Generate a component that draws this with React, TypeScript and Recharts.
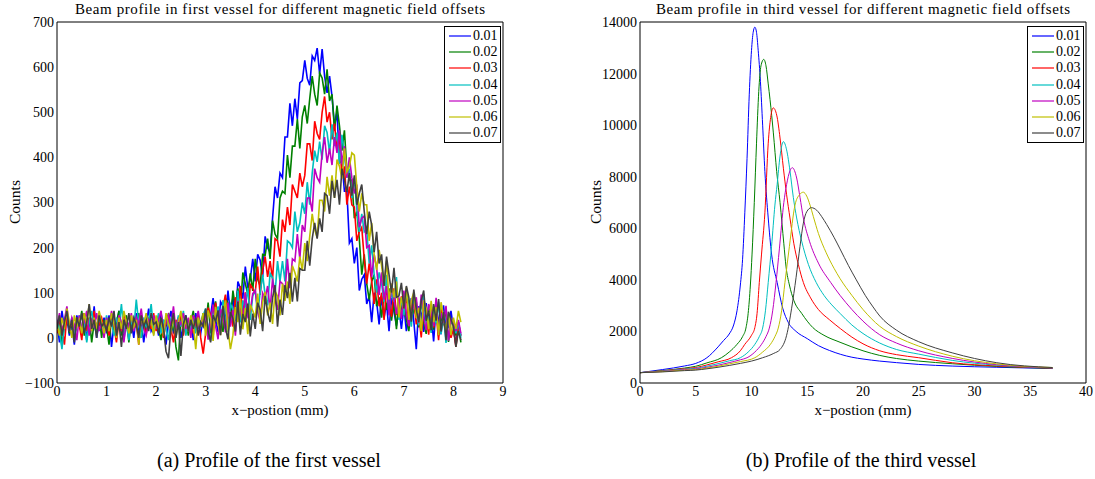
import React from 'react';
import { LineChart, Line, XAxis, YAxis, Legend } from 'recharts';

const FONT = '"Liberation Serif", "Times New Roman", serif';

const SERIES_LABELS = ['0.01', '0.02', '0.03', '0.04', '0.05', '0.06', '0.07'];
const SERIES_COLORS = ['#0000ff', '#008000', '#ff0000', '#00bfbf', '#bf00bf', '#bfbf00', '#404040'];

// ---- first vessel: counts sampled every 0.05 mm starting at 0 mm ----
const FIRST_STEP_MM = 0.05;

const first001 = [
  35, -10, 60, 20, 45, 5, 30, -15, 50, 25, 10, 55, -5, 40, 15, 70, 0, 35, 20, 45,
  10, 50, -20, 30, 15, 60, 25, -5, 45, 20, 35, 0, 55, 10, 40, -10, 30, 65, 15, 25,
  40, 5, 55, 20, -15, 35, 60, 10, 25, 45, 0, 30, 50, 15, 40, -5, 55, 25, 10, 45,
  60, 7, 50, 88, 40, 13, 80, 70, 35, 105, 53, 90, 40, 125, 110, 87, 158, 110, 130, 175,
  125, 185, 172, 135, 225, 200, 190, 265, 335, 310, 365, 355, 445, 445, 520, 470, 530, 485, 565, 570,
  615, 575, 560, 625, 615, 642, 585, 640, 580, 543, 580, 535, 470, 500, 390, 390, 325, 325, 210, 220,
  165, 200, 105, 130, 140, 75, 93, 35, 100, 80, 30, 92, 45, 77, 15, 89, 58, 27, 66, 20,
  70, 15, 53, 88, 37, -25, 70, 54, 13, 77, 20, 53, -8, 66, 40, 8, 72, 16, 25, 60,
  20, -15, 35, 5,
];

const first002 = [
  20, 45, -20, 30, 55, 10, 35, -5, 40, 25, 60, 5, 30, 45, -10, 35, 20, 55, 0, 40,
  25, -15, 45, 15, 35, 60, 5, 30, 50, -10, 40, 20, 30, 55, 0, 35, 15, 45, 25, 10,
  45, 20, -5, 40, 25, 55, 10, 35, -20, -50, 50, 15, 40, 5, 35, 60, 20, 45, 30, 55,
  25, 78, 10, 58, 81, 30, 59, 13, 88, 77, 35, 105, 67, 110, 60, 145, 120, 97, 143, 104,
  175, 130, 115, 185, 183, 220, 175, 260, 230, 220, 310, 325, 320, 405, 355, 425, 425, 485, 420, 490,
  515, 475, 530, 580, 540, 515, 587, 576, 540, 595, 525, 540, 460, 515, 470, 415, 460, 370, 350, 350,
  265, 280, 220, 140, 185, 120, 85, 125, 140, 70, 90, 45, 100, 62, 110, 38, 81, 19, 82, 65,
  93, 41, 15, 74, 57, 80, 23, 86, 35, 9, 67, 50, 18, 81, 5, 49, 28, 67, -9, 40,
  25, 5, 30, -10,
];

const first003 = [
  10, 40, 25, -15, 50, 20, 35, 0, 45, 30, -5, 55, 15, 40, 25, 60, 10, 30, 45, 20,
  35, 5, 50, 25, -10, 40, 15, 55, 30, 0, 45, 20, 35, -15, 50, 25, 10, 40, 20, 55,
  15, 45, 25, 0, 35, 50, 20, -10, 40, 25, 55, 5, 35, 20, 45, 10, 30, 50, 0, -35,
  10, 67, 49, 1, 78, 40, 17, 69, 96, 33, 60, 25, 90, 60, 115, 50, 101, 47, 118, 109,
  100, 158, 95, 150, 180, 135, 170, 130, 220, 215, 180, 262, 235, 290, 250, 340, 325, 310, 365, 335,
  360, 430, 430, 393, 480, 453, 440, 500, 535, 478, 500, 440, 475, 415, 445, 355, 380, 295, 335, 295,
  290, 215, 235, 245, 175, 120, 165, 125, 75, 130, 70, 100, 40, 110, 80, 47, 110, 53, 60, 92,
  50, 98, 26, 69, 87, 30, 53, 1, 70, 54, 7, 70, 23, 56, -5, 69, 38, 7, 46, 0,
  20, -20, 25, 5,
];

const first004 = [
  40, 15, -25, 35, 55, 20, 45, 5, 30, 50, 15, 40, -10, 35, 60, 25, 10, 45, 30, 20,
  50, 20, 35, 5, 45, 25, 75, 10, 30, -5, 40, 20, 85, 30, 0, 45, 25, 35, 75, 15,
  30, 55, 10, 40, 20, -5, 45, 30, 15, 50, 25, 60, 5, 35, 20, 45, 10, 40, 25, 50,
  65, 17, -6, 56, 43, 70, 17, 84, 36, 13, 75, 63, 37, 105, 34, 83, 67, 111, 40, 93,
  105, 55, 100, 140, 95, 72, 143, 133, 98, 170, 125, 170, 125, 215, 210, 200, 280, 235, 255, 300,
  275, 345, 295, 365, 415, 390, 435, 395, 470, 455, 410, 473, 425, 455, 385, 450, 405, 355, 375, 310,
  355, 285, 235, 275, 235, 240, 165, 205, 140, 100, 145, 120, 80, 140, 60, 100, 80, 135, 40, 88,
  50, 100, 78, 25, 97, 55, 28, 75, 97, 30, 53, 11, 69, 32, 80, 8, 51, -11, 52, 35,
  30, 10, 35, 0,
];

const first005 = [
  25, 55, 10, 40, 70, 15, 45, 30, -5, 50, 20, 35, 60, 5, 40, 25, 55, 15, 35, 0,
  45, 20, 60, 30, 10, 50, 35, -10, 40, 25, 55, 15, 45, 30, 65, 20, 5, 40, 30, 50,
  20, 40, 60, 10, 35, 50, 25, 70, 15, 40, 30, 55, 20, 45, 0, 50, 35, 60, 25, 45,
  50, -4, 38, 74, 26, -3, 64, 50, 12, 78, 25, 62, 5, 82, 60, 32, 100, 48, 60, 98,
  105, 58, 36, 99, 87, 115, 63, 131, 84, 62, 125, 120, 100, 175, 110, 175, 170, 230, 175, 250,
  235, 310, 310, 280, 375, 355, 345, 410, 445, 388, 420, 383, 445, 410, 460, 385, 425, 355, 400, 355,
  320, 340, 245, 265, 270, 200, 205, 135, 185, 155, 95, 145, 85, 115, 50, 120, 85, 53, 90, 42,
  105, 53, 26, 84, 67, 90, 33, 96, 44, 17, 75, 58, 26, 89, 12, 55, 33, 71, -6, 42,
  35, 15, 40, 10,
];

const first006 = [
  30, 5, 45, 20, 65, 35, 0, 50, 25, 40, 10, 55, 30, 75, 15, 45, 20, 60, 35, 10,
  40, 15, 55, 30, 0, 45, 20, 60, 35, 10, 50, 25, 40, -15, 45, 30, 55, 20, 40, 5,
  50, 25, 40, 5, 55, 30, 15, 45, 0, 35, 60, 20, 40, 15, 50, 30, -25, 45, 25, 55,
  5, 61, 42, -7, 69, 30, 6, 57, 83, 19, -25, 6, 68, 35, 87, 19, 66, 8, 74, 60,
  45, 98, 31, 79, 102, 50, 78, 31, 104, 92, 50, 120, 82, 125, 75, 160, 145, 125, 180, 150,
  210, 170, 225, 275, 240, 222, 305, 305, 280, 357, 315, 360, 310, 395, 380, 353, 420, 368, 380, 410,
  405, 335, 280, 320, 295, 295, 215, 255, 185, 150, 195, 160, 115, 170, 85, 120, 90, 125, 45, 90,
  65, 112, 40, 83, 101, 44, 67, 15, 83, 66, 19, 82, 35, 68, 6, 79, 47, 15, 53, 6,
  45, 20, 60, 35,
];

const first007 = [
  20, 50, 5, 35, 60, 15, 40, -10, 45, 25, 55, 10, 35, 75, 20, 40, 0, 50, 25, 35,
  15, 45, 25, 60, 5, 35, -20, 40, 20, 55, 10, 45, 30, 0, 50, 25, 40, 15, 55, 30,
  35, 10, 45, 20, -30, -45, 25, 55, 0, 35, -40, 30, 50, 15, 40, 20, 45, 5, 35, 25,
  65, 15, -10, 50, 36, 61, 6, 71, 22, -3, 57, 43, 14, 80, 7, 53, 35, 76, 3, 54,
  20, 78, 62, 15, 93, 57, 35, 89, 117, 25, 85, 51, 117, 88, 144, 80, 133, 81, 154, 150,
  150, 215, 160, 220, 255, 220, 265, 235, 320, 315, 275, 348, 310, 350, 295, 375, 350, 323, 365, 315,
  360, 295, 320, 340, 280, 230, 280, 250, 190, 235, 165, 185, 115, 180, 140, 100, 155, 90, 93, 122,
  65, 115, 90, 36, 107, 63, 35, 82, 105, 38, 60, 17, 75, 38, 86, 14, 57, -5, 58, 41,
  25, -20, 15, -5,
];

// ---- third vessel: [x (mm), counts] ----
const third001 = [
  [0, 400], [2, 520], [4, 660], [5, 760], [6, 980], [7, 1400], [7.5, 1650], [8, 1900], [8.4, 2250],
  [8.7, 2800], [9, 3800], [9.2, 4800], [9.4, 6600], [9.6, 8700], [9.8, 11200], [10, 12900],
  [10.15, 13600], [10.3, 13800], [10.45, 13600], [10.6, 12900], [10.8, 11700], [11, 10000],
  [11.2, 8200], [11.5, 6400], [11.8, 5000], [12.3, 3900], [12.8, 2900], [13.3, 2350], [14, 2000],
  [15, 1720], [16, 1450], [17, 1260], [18, 1110], [19, 1000], [20, 930], [21.5, 850], [23, 790],
  [25, 720], [28, 657], [32, 610], [37, 560],
];
const third002 = [
  [0, 400], [2, 480], [4, 580], [5, 650], [6, 780], [7.3, 980], [8, 1200], [8.7, 1500], [9.2, 1800],
  [9.5, 2130], [9.7, 2700], [9.9, 3800], [10.05, 5000], [10.25, 7000], [10.45, 9300], [10.65, 11300],
  [10.85, 12300], [11.1, 12550], [11.3, 12300], [11.5, 11600], [11.66, 11000], [11.96, 9700],
  [12.26, 8200], [12.56, 7000], [12.9, 5400], [13.1, 4500], [13.4, 3800], [13.8, 3200], [14.5, 2700],
  [15.5, 2150], [16.5, 1850], [17.94, 1580], [19, 1400], [20, 1250], [21.5, 1070], [23, 950],
  [25, 850], [28, 747], [32, 640], [37, 570],
];
const third003 = [
  [0, 400], [2, 470], [4, 560], [5, 600], [6, 700], [7, 820], [8.2, 980], [9, 1250], [9.4, 1500],
  [10, 1850], [10.3, 2150], [10.5, 2700], [10.7, 3900], [10.9, 5000], [11.2, 6600], [11.5, 9300],
  [11.72, 10300], [11.95, 10670], [12.26, 10390], [12.56, 9500], [12.86, 8330], [13.15, 7300],
  [13.45, 6400], [13.8, 5400], [14.2, 4600], [14.65, 3900], [15.3, 3300], [16, 2850], [17, 2450],
  [18, 2100], [19, 1780], [20, 1520], [21.5, 1250], [23, 1100], [25, 980], [28, 786], [32, 660],
  [37, 580],
];
const third004 = [
  [0, 400], [2, 460], [4, 540], [5, 570], [6, 650], [7, 750], [8, 860], [9, 980], [9.7, 1200],
  [10.3, 1500], [10.7, 1800], [11, 2130], [11.25, 2800], [11.5, 3900], [11.8, 5300], [12.1, 6900],
  [12.3, 7700], [12.56, 8800], [12.86, 9360], [13.15, 9040], [13.45, 8230], [13.75, 7200],
  [14.05, 6400], [14.5, 5500], [15.1, 4600], [15.8, 3900], [16.5, 3400], [17.2, 3030],
  [17.94, 2700], [19, 2250], [20, 1920], [21.5, 1550], [23, 1300], [25, 1120], [28, 877],
  [32, 690], [37, 590],
];
const third005 = [
  [0, 400], [2, 450], [4, 520], [5, 545], [6, 610], [7, 690], [8, 790], [9, 900], [9.6, 980],
  [10.3, 1200], [10.9, 1500], [11.3, 1800], [11.6, 2130], [11.9, 2800], [12.2, 3900], [12.5, 5200],
  [12.9, 7000], [13.15, 7700], [13.45, 8230], [13.66, 8350], [14.05, 7950], [14.35, 7200],
  [14.65, 6400], [15.2, 5500], [16, 4650], [17.1, 3900], [17.94, 3400], [19, 2850], [20, 2400],
  [21.5, 1870], [23, 1550], [25, 1250], [28, 955], [32, 710], [37, 590],
];
const third006 = [
  [0, 400], [2, 440], [4, 500], [5, 520], [6, 580], [7, 650], [8, 740], [9, 830], [10.3, 980],
  [11, 1200], [11.7, 1500], [12.1, 1800], [12.4, 2130], [12.7, 2800], [13, 3900], [13.4, 5300],
  [13.9, 6900], [14.3, 7300], [14.65, 7400], [14.95, 7250], [15.25, 6900], [15.55, 6450],
  [16, 5800], [16.7, 5050], [17.4, 4450], [17.94, 4050], [19, 3400], [20, 2850], [21.5, 2200],
  [23, 1800], [25, 1430], [28, 1040], [32, 740], [37, 600],
];
const third007 = [
  [0, 400], [2, 430], [4, 480], [5, 500], [6, 550], [7, 610], [8, 680], [9, 760], [10, 850],
  [11, 980], [12, 1150], [12.56, 1300], [13.15, 1850], [13.6, 2900], [14, 4100], [14.35, 5300],
  [14.65, 6200], [14.95, 6640], [15.37, 6800], [15.85, 6700], [16.3, 6450], [16.74, 6150],
  [17.4, 5650], [17.94, 5200], [18.7, 4550], [19.4, 4000], [20.2, 3400], [20.9, 2950], [21.5, 2600],
  [23, 2050], [25, 1600], [28, 1170], [32, 786], [37, 600],
];

const FIRST_X_TICKS = [0, 1, 2, 3, 4, 5, 6, 7, 8, 9];
const FIRST_Y_TICKS = [-100, 0, 100, 200, 300, 400, 500, 600, 700];
const THIRD_X_TICKS = [0, 5, 10, 15, 20, 25, 30, 35, 40];
const THIRD_Y_TICKS = [0, 2000, 4000, 6000, 8000, 10000, 12000, 14000];

type Pt = { x: number; y: number };

const fromSamples = (vals: number[]): Pt[] =>
  vals.map((y, i) => ({ x: Math.round(i * FIRST_STEP_MM * 100) / 100, y }));
const fromPairs = (p: number[][]): Pt[] => p.map(([x, y]) => ({ x, y }));

const firstSeries = [first001, first002, first003, first004, first005, first006, first007].map(fromSamples);
const thirdSeries = [third001, third002, third003, third004, third005, third006, third007].map(fromPairs);

const minus = (v: number) => String(v).replace('-', '\u2212');

function LegendBox() {
  return (
    <div
      style={{
        border: '1px solid #000',
        background: '#fff',
        width: 55,
        padding: '1px 0',
        boxSizing: 'content-box',
      }}
    >
      {SERIES_LABELS.map((label, i) => (
        <div key={label} style={{ height: 16.2, display: 'flex', alignItems: 'center' }}>
          <svg width={22} height={4} style={{ marginLeft: 4, display: 'block' }}>
            <line x1={0} y1={2} x2={22} y2={2} stroke={SERIES_COLORS[i]} strokeWidth={1.2} />
          </svg>
          <span
            style={{
              marginLeft: 2,
              fontFamily: FONT,
              fontSize: 14,
              lineHeight: '14px',
              color: '#000',
            }}
          >
            {label}
          </span>
        </div>
      ))}
    </div>
  );
}

type PanelProps = {
  left: number;
  series: Pt[][];
  xDomain: [number, number];
  xTicks: number[];
  yDomain: [number, number];
  yTicks: number[];
  strokeWidth: number;
  curve: 'linear' | 'monotone';
};

function Panel({ left, series, xDomain, xTicks, yDomain, yTicks, strokeWidth, curve }: PanelProps) {
  const tickStyle = { fill: '#000', fontSize: 14, fontFamily: FONT };
  const frame = { stroke: '#000', strokeWidth: 1 };
  return (
    <div style={{ position: 'absolute', left, top: 0 }}>
      <LineChart width={540} height={420} margin={{ top: 22, right: 37, bottom: 7, left: 27 }}>
        {/* label axes */}
        <XAxis
          xAxisId="b"
          type="number"
          dataKey="x"
          domain={xDomain}
          ticks={xTicks}
          interval={0}
          allowDataOverflow
          height={30}
          tickLine={false}
          axisLine={false}
          tickSize={0}
          tickMargin={3}
          tick={tickStyle}
        />
        <YAxis
          yAxisId="l"
          type="number"
          domain={yDomain}
          ticks={yTicks}
          interval={0}
          allowDataOverflow
          width={30}
          tickLine={false}
          axisLine={false}
          tickSize={0}
          tickMargin={3}
          tick={tickStyle}
          tickFormatter={minus}
        />
        {/* frame with inward ticks on all four sides */}
        <XAxis
          xAxisId="bm"
          orientation="bottom"
          mirror
          type="number"
          domain={xDomain}
          ticks={xTicks}
          interval={0}
          allowDataOverflow
          tick={false}
          tickSize={5}
          stroke="#000"
          axisLine={frame}
          tickLine={frame}
        />
        <XAxis
          xAxisId="tm"
          orientation="top"
          mirror
          type="number"
          domain={xDomain}
          ticks={xTicks}
          interval={0}
          allowDataOverflow
          tick={false}
          tickSize={5}
          stroke="#000"
          axisLine={frame}
          tickLine={frame}
        />
        <YAxis
          yAxisId="lm"
          orientation="left"
          mirror
          type="number"
          domain={yDomain}
          ticks={yTicks}
          interval={0}
          allowDataOverflow
          tick={false}
          tickSize={5}
          stroke="#000"
          axisLine={frame}
          tickLine={frame}
        />
        <YAxis
          yAxisId="rm"
          orientation="right"
          mirror
          type="number"
          domain={yDomain}
          ticks={yTicks}
          interval={0}
          allowDataOverflow
          tick={false}
          tickSize={5}
          stroke="#000"
          axisLine={frame}
          tickLine={frame}
        />
        {series.map((data, i) => (
          <Line
            key={SERIES_LABELS[i]}
            xAxisId="b"
            yAxisId="l"
            data={data}
            dataKey="y"
            name={SERIES_LABELS[i]}
            type={curve}
            stroke={SERIES_COLORS[i]}
            strokeWidth={strokeWidth}
            dot={false}
            activeDot={false}
            isAnimationActive={false}
          />
        ))}
        <Legend
          layout="vertical"
          align="center"
          verticalAlign="middle"
          content={() => <LegendBox />}
          wrapperStyle={{ left: 444, top: 26, width: 57 }}
        />
      </LineChart>
    </div>
  );
}

export default function App() {
  const t = { fontFamily: FONT, fill: '#000' } as const;
  return (
    <div
      style={{
        position: 'absolute',
        left: 0,
        top: 0,
        width: 1095,
        height: 479,
        background: '#fff',
        overflow: 'hidden',
      }}
    >
      <Panel
        left={0}
        series={firstSeries}
        xDomain={[0, 9]}
        xTicks={FIRST_X_TICKS}
        yDomain={[-100, 700]}
        yTicks={FIRST_Y_TICKS}
        strokeWidth={1.6}
        curve="linear"
      />
      <Panel
        left={583}
        series={thirdSeries}
        xDomain={[0, 40]}
        xTicks={THIRD_X_TICKS}
        yDomain={[0, 14000]}
        yTicks={THIRD_Y_TICKS}
        strokeWidth={1}
        curve="monotone"
      />
      <svg
        width={1095}
        height={479}
        style={{ position: 'absolute', left: 0, top: 0, pointerEvents: 'none' }}
      >
        <text x={280} y={14} textAnchor="middle" fontSize={15} textLength={410} lengthAdjust="spacing" {...t}>
          Beam profile in first vessel for different magnetic field offsets
        </text>
        <text x={863} y={14} textAnchor="middle" fontSize={15} textLength={414} lengthAdjust="spacing" {...t}>
          Beam profile in third vessel for different magnetic field offsets
        </text>
        <text x={20} y={202} textAnchor="middle" fontSize={15.5} transform="rotate(-90 20 202)" {...t}>
          Counts
        </text>
        <text x={601} y={202} textAnchor="middle" fontSize={15.5} transform="rotate(-90 601 202)" {...t}>
          Counts
        </text>
        <text x={280} y={415} textAnchor="middle" fontSize={15} {...t}>
          x{'\u2212'}postion (mm)
        </text>
        <text x={863} y={415} textAnchor="middle" fontSize={15} {...t}>
          x{'\u2212'}postion (mm)
        </text>
        <text x={269} y={467} textAnchor="middle" fontSize={20} {...t}>
          (a) Profile of the first vessel
        </text>
        <text x={861} y={467} textAnchor="middle" fontSize={20} {...t}>
          (b) Profile of the third vessel
        </text>
      </svg>
    </div>
  );
}
